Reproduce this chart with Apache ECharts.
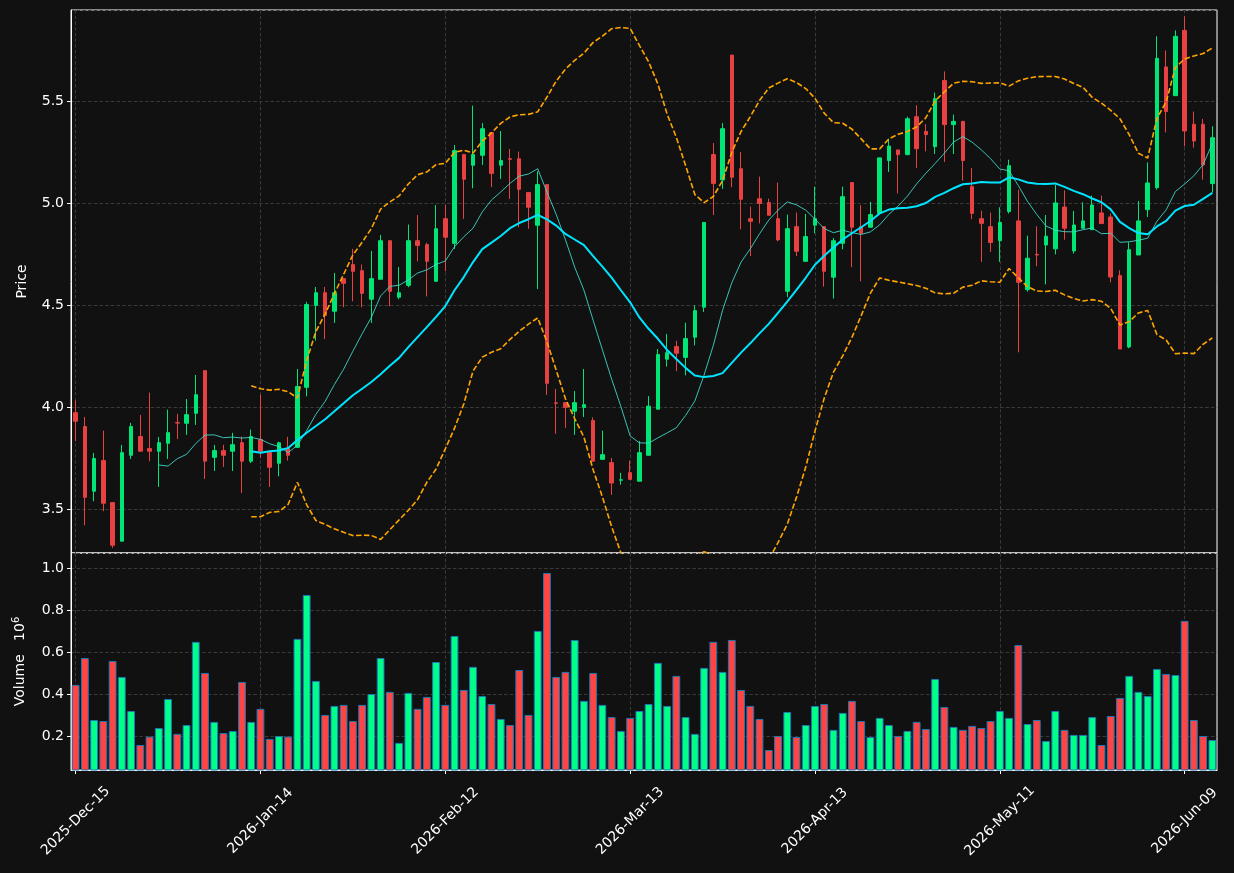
<!DOCTYPE html>
<html>
<head>
<meta charset="utf-8">
<title>Price &amp; Volume</title>
<script src="https://cdn.jsdelivr.net/npm/echarts@6/dist/echarts.min.js"></script>
<style>
  html, body { margin: 0; padding: 0; background: #111111; }
  #chart { width: 1234px; height: 873px; }
</style>
</head>
<body>
<div id="chart"></div>
<script>
/* ============================================================
   Candlestick + volume, MA10 / MA20 / Bollinger(20, 2)
   ============================================================ */

// ==================== Trading days ====================
const decDays = [15,16,17,18,19,22,23,24,26,29,30,31];
const janDays = [2,5,6,7,8,9,12,13,14,15,16,20,21,22,23,26,27,28,29,30];
const febDays = [2,3,4,5,6,9,10,11,12,13,17,18,19,20,23,24,25,26,27];
const marDays = [2,3,4,5,6,9,10,11,12,13,16,17,18,19,20,23,24,25,26,27,30,31];
const aprDays = [1,2,6,7,8,9,10,13,14,15,16,17,20,21,22,23,24,27,28,29,30];
const mayDays = [1,4,5,6,7,8,11,12,13,14,15,18,19,20,21,22,26,27,28,29];
const junDays = [1,2,3,4,5,8,9,10,11,12];

// ==================== OHLC ====================
const opens = [
  3.972,3.904,3.587,3.737,3.531,3.342,3.763,3.855,3.796,3.783,
  3.822,3.923,3.920,3.969,4.178,3.753,3.786,3.783,3.825,3.734,
  3.840,3.778,3.724,3.796,3.802,4.096,4.498,4.560,4.469,4.629,
  4.698,4.668,4.528,4.626,4.815,4.538,4.596,4.815,4.796,4.616,
  4.923,4.802,5.237,5.185,5.234,5.345,5.185,5.217,5.217,5.051,
  4.891,5.090,4.020,4.021,3.979,3.998,3.933,3.743,3.727,3.641,
  3.678,3.636,3.763,3.989,4.234,4.296,4.243,4.342,4.489,5.237,
  5.113,5.725,5.168,4.923,5.021,5.002,4.923,4.567,4.884,4.714,
  4.891,4.884,4.636,4.802,5.100,4.884,4.881,4.949,5.208,5.260,
  5.237,5.423,5.351,5.276,5.600,5.384,5.400,5.080,4.923,4.884,
  4.815,4.958,4.912,4.575,4.748,4.794,4.775,4.980,4.765,4.876,
  4.869,4.951,4.931,4.644,4.294,4.745,4.967,5.075,5.667,5.526,
  5.846,5.386,5.386,5.095
];
const closes = [
  3.930,3.557,3.747,3.528,3.322,3.776,3.904,3.783,3.783,3.825,
  3.874,3.921,3.962,4.060,3.734,3.786,3.763,3.815,3.734,3.855,
  3.783,3.704,3.824,3.763,4.100,4.502,4.560,4.449,4.560,4.606,
  4.665,4.557,4.629,4.815,4.567,4.560,4.815,4.792,4.714,4.874,
  4.832,5.257,5.116,5.237,5.364,5.145,5.208,5.214,5.067,4.979,
  5.090,4.116,4.018,3.998,4.021,4.011,3.734,3.766,3.627,3.643,
  3.645,3.776,4.004,4.257,4.266,4.263,4.335,4.472,4.904,5.096,
  5.364,5.126,5.018,4.910,4.998,4.940,4.819,4.874,4.763,4.835,
  4.923,4.665,4.815,5.031,4.881,4.851,4.943,5.221,5.279,5.237,
  5.413,5.266,5.335,5.511,5.384,5.400,5.208,4.949,4.900,4.806,
  4.904,5.183,4.611,4.729,4.745,4.837,5.000,4.876,4.892,4.912,
  4.990,4.899,4.637,4.284,4.771,4.912,5.098,5.709,5.448,5.817,
  5.353,5.304,5.186,5.320
];
const lows = [
  3.832,3.420,3.538,3.489,3.309,3.342,3.745,3.783,3.734,3.608,
  3.745,3.843,3.863,3.912,3.647,3.686,3.706,3.686,3.578,3.725,
  3.750,3.608,3.660,3.737,3.800,4.052,4.325,4.333,4.412,4.489,
  4.518,4.489,4.412,4.626,4.493,4.528,4.587,4.714,4.542,4.616,
  4.665,4.775,4.922,5.072,5.186,5.078,5.118,5.020,4.881,4.873,
  4.578,4.059,3.868,3.897,3.863,3.951,3.734,3.743,3.569,3.619,
  3.645,3.636,3.763,3.989,4.198,4.175,4.155,4.302,4.466,4.941,
  5.069,5.077,4.871,4.740,4.900,4.940,4.812,4.538,4.740,4.714,
  4.851,4.590,4.531,4.773,4.685,4.616,4.881,4.949,5.152,5.047,
  5.234,5.172,5.253,5.240,5.201,5.240,5.109,4.920,4.711,4.760,
  4.711,4.948,4.268,4.565,4.690,4.601,4.748,4.820,4.752,4.876,
  4.869,4.899,4.611,4.284,4.288,4.745,4.931,5.065,5.346,5.526,
  5.278,5.271,5.114,5.052
];
const highs = [
  4.033,3.951,3.775,3.884,3.531,3.814,3.922,3.961,4.070,3.853,
  3.987,3.966,4.039,4.157,4.178,3.814,3.814,3.873,3.855,3.889,
  4.060,3.778,3.830,3.853,4.186,4.515,4.588,4.588,4.657,4.629,
  4.775,4.698,4.765,4.843,4.815,4.686,4.894,4.941,4.805,4.990,
  4.990,5.284,5.237,5.477,5.392,5.345,5.353,5.265,5.252,5.051,
  5.155,5.090,4.088,4.021,4.078,4.186,3.949,3.884,3.750,3.677,
  3.737,3.832,4.053,4.284,4.358,4.325,4.413,4.498,4.907,5.294,
  5.392,5.725,5.250,4.982,5.129,5.021,5.100,4.943,4.953,4.946,
  5.080,4.884,4.828,5.080,5.100,4.989,5.005,5.221,5.315,5.260,
  5.423,5.479,5.387,5.541,5.645,5.433,5.400,5.172,4.962,4.953,
  4.979,5.212,5.065,4.840,4.886,4.941,5.088,5.062,4.961,5.003,
  5.036,5.036,4.948,4.670,4.807,5.010,5.199,5.817,5.748,5.846,
  5.915,5.448,5.412,5.376
];

// ==================== Volume (x 10^6) ====================
const volumes = [
  0.443,0.571,0.276,0.271,0.557,0.481,0.319,0.157,0.197,0.238,
  0.376,0.210,0.252,0.648,0.500,0.267,0.214,0.224,0.457,0.267,
  0.329,0.186,0.200,0.197,0.662,0.871,0.462,0.300,0.343,0.348,
  0.271,0.348,0.400,0.571,0.410,0.167,0.405,0.329,0.386,0.552,
  0.348,0.676,0.419,0.529,0.390,0.352,0.281,0.252,0.514,0.300,
  0.700,0.976,0.481,0.505,0.657,0.367,0.500,0.348,0.290,0.224,
  0.286,0.319,0.352,0.548,0.343,0.486,0.290,0.210,0.524,0.648,
  0.505,0.657,0.419,0.343,0.281,0.133,0.200,0.314,0.195,0.252,
  0.343,0.352,0.229,0.310,0.367,0.271,0.195,0.286,0.252,0.200,
  0.224,0.267,0.233,0.471,0.338,0.243,0.229,0.248,0.238,0.271,
  0.319,0.286,0.633,0.257,0.276,0.176,0.319,0.229,0.205,0.205,
  0.290,0.157,0.295,0.381,0.486,0.410,0.390,0.519,0.495,0.490,
  0.748,0.276,0.200,0.181
];

// ==================== Colours ====================
const UP = '#00e676';
const DOWN = '#e84142';
const VOL_UP = '#00ff88';
const VOL_DOWN = '#ff4444';
const GRID_LINE = '#3a3a3a';
const FONT = 'DejaVu Sans';

// ==================== Helpers ====================
const pad = d => String(d).padStart(2, '0');
const dates = [].concat(
    decDays.map(d => '2025-Dec-' + pad(d)),
    janDays.map(d => '2026-Jan-' + pad(d)),
    febDays.map(d => '2026-Feb-' + pad(d)),
    marDays.map(d => '2026-Mar-' + pad(d)),
    aprDays.map(d => '2026-Apr-' + pad(d)),
    mayDays.map(d => '2026-May-' + pad(d)),
    junDays.map(d => '2026-Jun-' + pad(d))
);

function movingAvg(arr, n) {
    return arr.map((_, i) => {
        if (i < n - 1) return '-';
        const win = arr.slice(i - n + 1, i + 1);
        return win.reduce((a, b) => a + b, 0) / n;
    });
}

function bollinger(arr, n, k) {
    const upper = [], lower = [];
    arr.forEach((_, i) => {
        if (i < n - 1) { upper.push('-'); lower.push('-'); return; }
        const win = arr.slice(i - n + 1, i + 1);
        const m = win.reduce((a, b) => a + b, 0) / n;
        const sd = Math.sqrt(win.reduce((a, b) => a + (b - m) * (b - m), 0) / n);
        upper.push(m + k * sd);
        lower.push(m - k * sd);
    });
    return { upper, lower };
}

// ==================== Build chart ====================
function renderChart(el) {
    const ohlc = opens.map((o, i) => [o, closes[i], lows[i], highs[i]]);
    const ma10 = movingAvg(closes, 10);
    const ma20 = movingAvg(closes, 20);
    const bb = bollinger(closes, 20, 2);
    const volData = volumes.map((v, i) => ({
        value: v,
        itemStyle: { color: closes[i] >= opens[i] ? VOL_UP : VOL_DOWN }
    }));

    const labelStyle = { color: '#ffffff', fontSize: 14, fontFamily: FONT };
    const dashed = { color: GRID_LINE, type: [3.5, 2.2], width: 1 };

    const chart = echarts.init(el, null, { renderer: 'canvas' });
    chart.setOption({
        backgroundColor: '#111111',
        animation: false,
        grid: [
            { left: 71, top: 10, width: 1146, height: 543, show: true, borderColor: '#ffffff', borderWidth: 1 },
            { left: 71, top: 553, width: 1146, height: 217, show: true, borderColor: '#ffffff', borderWidth: 1 }
        ],
        xAxis: [
            {
                type: 'category', gridIndex: 0, data: dates, boundaryGap: true,
                axisLine: { show: false }, axisTick: { show: false }, axisLabel: { show: false },
                splitLine: { show: true, interval: 19, alignWithLabel: true, lineStyle: dashed }
            },
            {
                type: 'category', gridIndex: 1, data: dates, boundaryGap: true,
                axisLine: { show: true, lineStyle: { color: '#ffffff' } },
                axisTick: { show: true, interval: 19, alignWithLabel: true, length: 4, lineStyle: { color: '#ffffff' } },
                axisLabel: Object.assign({ interval: 19, rotate: 45, margin: 51,
                    align: 'center', verticalAlign: 'middle' }, labelStyle),
                splitLine: { show: true, interval: 19, alignWithLabel: true, lineStyle: dashed }
            }
        ],
        yAxis: [
            {
                type: 'value', gridIndex: 0, min: 3.284, max: 5.946,
                name: 'Price', nameLocation: 'middle', nameGap: 42, nameRotate: 90,
                nameTextStyle: labelStyle,
                axisLine: { show: true, lineStyle: { color: '#ffffff' } },
                axisTick: { show: true, length: 4, lineStyle: { color: '#ffffff' } },
                axisLabel: Object.assign({ showMinLabel: false, showMaxLabel: false, margin: 7,
                    formatter: v => v.toFixed(1) }, labelStyle),
                splitLine: { show: true, lineStyle: dashed }
            },
            {
                type: 'value', gridIndex: 1, min: 0.038, max: 1.071,
                name: '{a|Volume   10}{b|6}', nameLocation: 'middle', nameGap: 42, nameRotate: 90,
                nameTextStyle: Object.assign({
                    rich: {
                        a: { color: '#ffffff', fontSize: 14, fontFamily: FONT, lineHeight: 18 },
                        b: { color: '#ffffff', fontSize: 10, fontFamily: FONT, verticalAlign: 'top', lineHeight: 18 }
                    }
                }, labelStyle),
                axisLine: { show: true, lineStyle: { color: '#ffffff' } },
                axisTick: { show: true, length: 4, lineStyle: { color: '#ffffff' } },
                axisLabel: Object.assign({ showMinLabel: false, showMaxLabel: false, margin: 7,
                    formatter: v => v.toFixed(1) }, labelStyle),
                splitLine: { show: true, lineStyle: dashed }
            }
        ],
        series: [
            {
                name: 'OHLC', type: 'candlestick', xAxisIndex: 0, yAxisIndex: 0,
                data: ohlc, barWidth: 4,
                itemStyle: { color: UP, color0: DOWN, borderColor: UP, borderColor0: DOWN, borderWidth: 1 }
            },
            {
                name: 'MA10', type: 'line', xAxisIndex: 0, yAxisIndex: 0, data: ma10,
                symbol: 'none', lineStyle: { color: '#40e0d0', width: 1, opacity: 0.85 }
            },
            {
                name: 'MA20', type: 'line', xAxisIndex: 0, yAxisIndex: 0, data: ma20,
                symbol: 'none', lineStyle: { color: '#00e5ff', width: 2 }
            },
            {
                name: 'BB upper', type: 'line', xAxisIndex: 0, yAxisIndex: 0, data: bb.upper,
                symbol: 'none', lineStyle: { color: '#ffa500', width: 1.6, type: [5.5, 2.4] }
            },
            {
                name: 'BB lower', type: 'line', xAxisIndex: 0, yAxisIndex: 0, data: bb.lower,
                symbol: 'none', lineStyle: { color: '#ffa500', width: 1.6, type: [5.5, 2.4] }
            },
            {
                name: 'Volume', type: 'bar', xAxisIndex: 1, yAxisIndex: 1, data: volData,
                barWidth: 7.8,
                itemStyle: { borderColor: '#1f77b4', borderWidth: 1 }
            }
        ]
    });
    return chart;
}

renderChart(document.getElementById('chart'));
</script>
</body>
</html>
